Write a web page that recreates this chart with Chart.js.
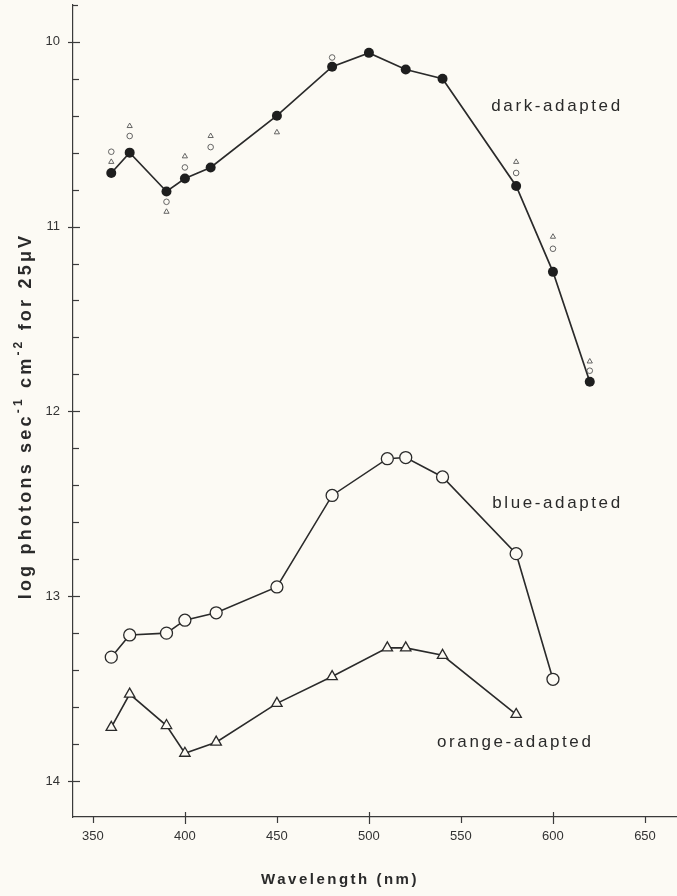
<!DOCTYPE html>
<html>
<head>
<meta charset="utf-8">
<script src="https://cdn.jsdelivr.net/npm/chart.js@4.4.1/dist/chart.umd.min.js"></script>
<style>
  html, body { margin: 0; padding: 0; background: #fcfaf4; overflow: hidden; }
  canvas { display: block; }
</style>
</head>
<body>
<canvas id="chart" width="677" height="896"></canvas>
<script>
// Values (wavelength in nm, log photons threshold)
const darkWl = [360, 370, 390, 400, 414, 450, 480, 500, 520, 540, 580, 600, 620];
const darkVal = [10.71, 10.60, 10.81, 10.74, 10.68, 10.40, 10.135, 10.06, 10.15, 10.20, 10.78, 11.245, 11.84];

// small unjoined symbols around the dark-adapted curve
const darkCircWl = [360, 370, 390, 400, 414, 480, 580, 600, 620];
const darkCircVal = [10.595, 10.51, 10.866, 10.68, 10.57, 10.085, 10.71, 11.12, 11.78];
const darkTriWl = [360, 370, 390, 400, 414, 450, 580, 600, 620];
const darkTriVal = [10.65, 10.456, 10.92, 10.62, 10.51, 10.49, 10.65, 11.055, 11.73];

const blueWl = [360, 370, 390, 400, 417, 450, 480, 510, 520, 540, 580, 600];
const blueVal = [13.33, 13.21, 13.20, 13.13, 13.09, 12.95, 12.455, 12.256, 12.25, 12.355, 12.77, 13.45];

const orangeWl = [360, 370, 390, 400, 417, 450, 480, 510, 520, 540, 580];
const orangeVal = [13.71, 13.53, 13.70, 13.85, 13.79, 13.58, 13.435, 13.28, 13.28, 13.32, 13.64];

const xTickValues = [350, 400, 450, 500, 550, 600, 650];
const xMajorTicks = [400, 500, 600];
const yTickValues = [10, 11, 12, 13, 14];

const curveLabels = ['dark-adapted', 'blue-adapted', 'orange-adapted'];
const curveLabelAt = [[566.5, 10.35], [567, 12.50], [537, 13.79]];

const xTitle = 'Wavelength (nm)';
// y title pieces: [text, superscript?]
const yTitleParts = [['log photons sec', false], ['-1', true], [' cm', false], ['-2', true], [' for 25\u03bcV', false]];

const INK = '#2a2a2a';
const BG = '#fcfaf4';

const toPts = (xs, ys) => xs.map((x, i) => ({ x: x, y: ys[i] }));

// keep the plot box exactly where the figure has it
const pinBox = (s, size) => {
    if (s.isHorizontal()) s.height = size; else s.width = size;
    s.paddingTop = 0;
    s.paddingBottom = 0;
    s.paddingLeft = 0;
    s.paddingRight = 0;
};

const decor = {
    id: 'decor',
    afterDraw(chart) {
        const ctx = chart.ctx;
        const xs = chart.scales.x;
        const ys = chart.scales.y;
        const a = chart.chartArea;
        ctx.save();
        ctx.strokeStyle = '#3a3a3a';
        ctx.lineWidth = 1.2;
        const seg = (x1, y1, x2, y2) => {
            ctx.beginPath();
            ctx.moveTo(x1, y1);
            ctx.lineTo(x2, y2);
            ctx.stroke();
        };
        // x ticks: major ones cross the axis, others hang below
        xTickValues.forEach(v => {
            const px = Math.round(xs.getPixelForValue(v)) + 0.5;
            if (xMajorTicks.includes(v)) seg(px, a.bottom - 5, px, a.bottom + 7);
            else seg(px, a.bottom, px, a.bottom + 6);
        });
        // y ticks: integers cross the axis, 0.2 steps on the inside
        yTickValues.forEach((v, i) => {
            const py = Math.round(ys.getPixelForValue(v)) + 0.5;
            seg(a.left - 5, py, a.left + 7, py);
            if (i < yTickValues.length - 1) {
                for (let k = 1; k < 5; k++) {
                    const pm = Math.round(ys.getPixelForValue(v + k * 0.2)) + 0.5;
                    seg(a.left, pm, a.left + 6, pm);
                }
            }
        });
        // little hook at the top of the y axis
        seg(a.left, a.top + 0.5, a.left + 5, a.top + 0.5);

        // curve labels
        ctx.fillStyle = INK;
        ctx.font = '17px "Liberation Sans", Arial, sans-serif';
        ctx.letterSpacing = '2.6px';
        ctx.textAlign = 'left';
        ctx.textBaseline = 'middle';
        curveLabels.forEach((t, i) => {
            const p = curveLabelAt[i];
            ctx.fillText(t, xs.getPixelForValue(p[0]), ys.getPixelForValue(p[1]));
        });

        // x title
        ctx.font = 'bold 15px "Liberation Sans", Arial, sans-serif';
        ctx.letterSpacing = '2.5px';
        ctx.textAlign = 'center';
        ctx.textBaseline = 'middle';
        ctx.fillText(xTitle, 340, 880);

        // y title, rotated, with raised exponents
        ctx.translate(26, 416);
        ctx.rotate(-Math.PI / 2);
        ctx.textAlign = 'left';
        ctx.textBaseline = 'middle';
        ctx.letterSpacing = '3.2px';
        const bigFont = 'bold 18px "Liberation Sans", Arial, sans-serif';
        const smallFont = 'bold 12px "Liberation Sans", Arial, sans-serif';
        let total = 0;
        yTitleParts.forEach(p => {
            ctx.font = p[1] ? smallFont : bigFont;
            total += ctx.measureText(p[0]).width;
        });
        let cx = -total / 2;
        yTitleParts.forEach(p => {
            ctx.font = p[1] ? smallFont : bigFont;
            ctx.fillText(p[0], cx, p[1] ? -7 : 0);
            cx += ctx.measureText(p[0]).width;
        });
        ctx.restore();
    }
};

const cfg = {
    type: 'line',
    data: {
        datasets: [
            {
                label: 'dark open circles',
                data: toPts(darkCircWl, darkCircVal),
                showLine: false,
                pointStyle: 'circle',
                pointRadius: 2.8,
                pointBorderWidth: 0.9,
                pointBorderColor: '#555',
                pointBackgroundColor: BG
            },
            {
                label: 'dark open triangles',
                data: toPts(darkTriWl, darkTriVal),
                showLine: false,
                pointStyle: 'triangle',
                pointRadius: 3,
                pointBorderWidth: 0.9,
                pointBorderColor: '#555',
                pointBackgroundColor: BG
            },
            {
                label: 'dark-adapted',
                data: toPts(darkWl, darkVal),
                borderColor: INK,
                borderWidth: 1.7,
                pointStyle: 'circle',
                pointRadius: 5,
                pointBorderWidth: 0,
                pointBackgroundColor: '#1e1e1e'
            },
            {
                label: 'blue-adapted',
                data: toPts(blueWl, blueVal),
                borderColor: INK,
                borderWidth: 1.6,
                pointStyle: 'circle',
                pointRadius: 6,
                pointBorderWidth: 1.3,
                pointBorderColor: INK,
                pointBackgroundColor: BG
            },
            {
                label: 'orange-adapted',
                data: toPts(orangeWl, orangeVal),
                borderColor: INK,
                borderWidth: 1.6,
                pointStyle: 'triangle',
                pointRadius: 6,
                pointBorderWidth: 1.3,
                pointBorderColor: INK,
                pointBackgroundColor: BG
            }
        ]
    },
    options: {
        responsive: false,
        devicePixelRatio: 1,
        animation: false,
        events: [],
        layout: { autoPadding: false, padding: { top: 5, right: 0, left: 0, bottom: 0 } },
        plugins: {
            legend: { display: false },
            tooltip: { enabled: false }
        },
        scales: {
            x: {
                type: 'linear',
                min: 339.2,
                max: 667.4,
                afterFit: s => pinBox(s, 79),
                afterBuildTicks: s => { s.ticks = xTickValues.map(v => ({ value: v })); },
                grid: { display: false },
                border: { display: true, color: '#3a3a3a', width: 1.2 },
                ticks: {
                    padding: 4,
                    color: '#333',
                    font: { family: '"Liberation Sans", Arial, sans-serif', size: 13 },
                    maxRotation: 0
                }
            },
            y: {
                type: 'linear',
                reverse: true,
                min: 9.801,
                max: 14.195,
                afterFit: s => pinBox(s, 73),
                afterBuildTicks: s => { s.ticks = yTickValues.map(v => ({ value: v })); },
                grid: { display: false },
                border: { display: true, color: '#3a3a3a', width: 1.2 },
                ticks: {
                    padding: 5,
                    color: '#333',
                    font: { family: '"Liberation Sans", Arial, sans-serif', size: 13 }
                }
            }
        }
    },
    plugins: [decor]
};

new Chart(document.getElementById('chart'), cfg);
</script>
</body>
</html>
